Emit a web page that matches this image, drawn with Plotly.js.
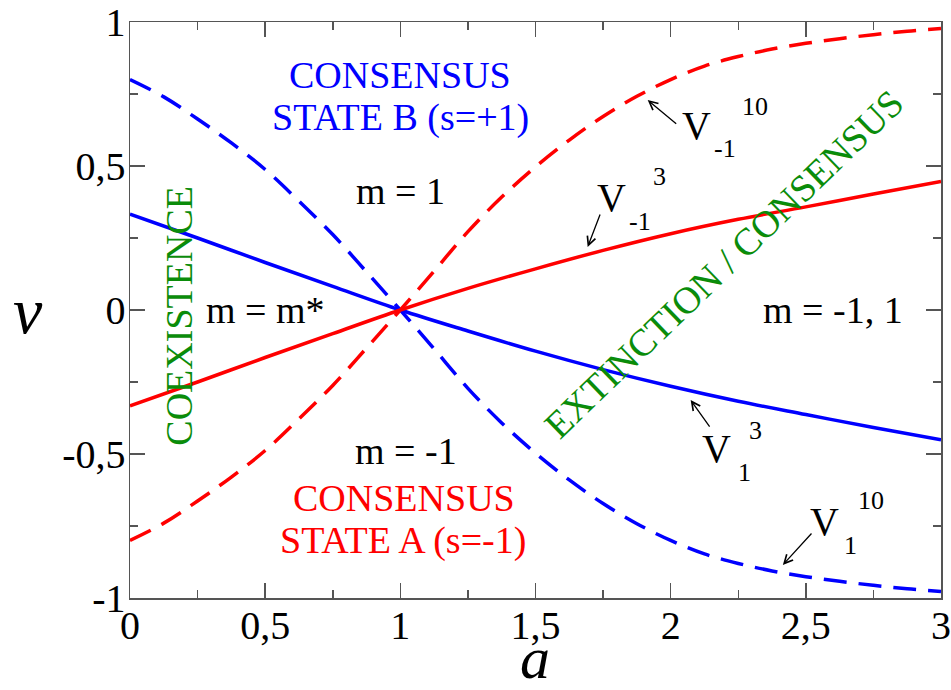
<!DOCTYPE html>
<html><head><meta charset="utf-8">
<script src="https://cdn.plot.ly/plotly-3.0.1.min.js"></script>
<style>html,body{margin:0;padding:0;background:#fff}</style>
</head><body><div id="chart" style="width:951px;height:690px"></div>
<script>
// ---- data ----
const aDense = [0,0.125,0.25,0.375,0.5,0.625,0.75,0.875,1,1.125,1.25,1.375,1.5,1.625,1.75,1.875,2,2.125,2.25,2.375,2.5,2.625,2.75,2.875,3];
const vPlus10 = [0.800,0.740,0.663,0.580,0.488,0.378,0.262,0.132,0,-0.135,-0.272,-0.392,-0.497,-0.590,-0.672,-0.742,-0.800,-0.847,-0.880,-0.906,-0.926,-0.942,-0.956,-0.968,-0.977];
const vMinus10 = [-0.800,-0.740,-0.663,-0.580,-0.488,-0.378,-0.262,-0.132,0,0.135,0.272,0.392,0.497,0.590,0.672,0.742,0.800,0.847,0.880,0.906,0.926,0.942,0.956,0.968,0.977];
const aCoarse = [0,0.25,0.5,0.75,1,1.25,1.5,1.75,2,2.25,2.5,2.75,3];
const vPlus3 = [0.333,0.250,0.165,0.082,0,-0.073,-0.143,-0.207,-0.265,-0.317,-0.363,-0.408,-0.451];
const vMinus3 = [-0.333,-0.250,-0.165,-0.082,0,0.075,0.143,0.207,0.265,0.315,0.358,0.403,0.446];
const xTickVals = [0,0.5,1,1.5,2,2.5,3];
const xTickText = ["0","0,5","1","1,5","2","2,5","3"];
const yTickVals = [-1,-0.5,0,0.5,1];
const yTickText = ["-1","-0,5","0","0,5","1"];

// ---- styles ----
const FONT = '"Liberation Serif", "DejaVu Serif", "Times New Roman", serif';
const BLUE = '#0000ff', RED = '#ff0000', GREEN = '#0a8c0a', AX = '#555555';
const LW = 3.5, DASH = '23px,12px';

const traces = [
  {x: aDense, y: vPlus10, mode: 'lines', line: {color: BLUE, width: LW, dash: DASH, shape: 'spline'}, name: 'V1^10'},
  {x: aDense, y: vMinus10, mode: 'lines', line: {color: RED, width: LW, dash: DASH, shape: 'spline'}, name: 'V-1^10'},
  {x: aCoarse, y: vPlus3, mode: 'lines', line: {color: BLUE, width: LW, shape: 'spline'}, name: 'V1^3'},
  {x: aCoarse, y: vMinus3, mode: 'lines', line: {color: RED, width: LW, shape: 'spline'}, name: 'V-1^3'}
];

function txt(text, x, y, color, size, extra) {
  return Object.assign({text: text, x: x, y: y, xref: 'x', yref: 'y', showarrow: false,
    font: {family: FONT, size: size, color: color}, xanchor: 'center', yanchor: 'middle', borderpad: 0}, extra || {});
}
function arrow(x, y, ax, ay) {
  return {text: '', x: x, y: y, ax: ax, ay: ay, xref: 'x', yref: 'y', axref: 'x', ayref: 'y',
    showarrow: true, arrowhead: 5, arrowsize: 1.3, arrowwidth: 1.3, arrowcolor: '#000', standoff: 0, startstandoff: 0};
}
const L = {xanchor: 'left'};
const TS = 38, VS = 40, SS = 26;

const annotations = [
  txt('CONSENSUS', 1.0, 0.816, BLUE, TS),
  txt('STATE B (s=+1)', 1.0, 0.670, BLUE, TS),
  txt('m = 1', 1.0, 0.413, '#000', TS),
  txt('m = m*', 0.5, 0.0, '#000', TS),
  txt('COEXISTENCE', 0.181, -0.02, GREEN, TS, {textangle: -90}),
  txt('m = -1', 1.02, -0.49, '#000', TS),
  txt('CONSENSUS', 1.013, -0.653, RED, TS),
  txt('STATE A (s=-1)', 1.01, -0.802, RED, TS),
  txt('m = -1, 1', 2.6, 0.0, '#000', TS),
  txt('EXTINCTION / CONSENSUS', 2.196, 0.16, GREEN, TS, {textangle: -44}),
  // V labels
  txt('V', 2.040, 0.641, '#000', VS, L), txt('-1', 2.155, 0.561, '#000', SS, L), txt('10', 2.262, 0.708, '#000', SS, L),
  txt('V', 1.722, 0.391, '#000', VS, L), txt('-1', 1.841, 0.309, '#000', SS, L), txt('3', 1.93, 0.462, '#000', SS, L),
  txt('V', 2.114, -0.481, '#000', VS, L), txt('1', 2.244, -0.564, '#000', SS, L), txt('3', 2.285, -0.417, '#000', SS, L),
  txt('V', 2.510, -0.734, '#000', VS, L), txt('1', 2.636, -0.816, '#000', SS, L), txt('10', 2.691, -0.663, '#000', SS, L),
  // arrows
  arrow(1.915, 0.729, 2.026, 0.642),
  arrow(1.693, 0.219, 1.741, 0.337),
  arrow(2.074, -0.3125, 2.148, -0.41),
  arrow(2.415, -0.885, 2.526, -0.771),
  // axis labels
  {text: '<i>v</i>', xref: 'paper', yref: 'y', x: -0.126, y: 0.0, showarrow: false,
   font: {family: FONT, size: 66, color: '#000'}, xanchor: 'center', yanchor: 'middle'},
  {text: '<i>a</i>', xref: 'paper', yref: 'paper', x: 0.4994, y: -0.105, showarrow: false,
   font: {family: FONT, size: 60, color: '#000'}, xanchor: 'center', yanchor: 'middle'}
];

const axisCommon = {
  showgrid: false, zeroline: false, showline: true, linecolor: AX, linewidth: 1.5,
  mirror: 'ticks', ticks: 'inside', ticklen: 15, tickwidth: 1.5, tickcolor: AX,
  tickfont: {family: FONT, size: 40, color: '#000'}, tickmode: 'array'
};

const layout = {
  width: 951, height: 690,
  margin: {l: 130, r: 10, t: 22, b: 92},
  paper_bgcolor: '#fff', plot_bgcolor: '#fff',
  showlegend: false,
  xaxis: Object.assign({}, axisCommon, {
    range: [0, 3], tickvals: xTickVals, ticktext: xTickText, ticklabelstandoff: -9,
    minor: {tickmode: 'linear', tick0: 0, dtick: 0.25, ticks: 'inside', ticklen: 8, tickwidth: 1.5, tickcolor: AX}
  }),
  yaxis: Object.assign({}, axisCommon, {
    range: [-1, 1], tickvals: yTickVals, ticktext: yTickText, ticklabelstandoff: -5,
    minor: {tickmode: 'linear', tick0: 0, dtick: 0.25, ticks: 'inside', ticklen: 8, tickwidth: 1.5, tickcolor: AX}
  }),
  annotations: annotations
};

Plotly.newPlot('chart', traces, layout, {staticPlot: true, displayModeBar: false});
</script>
</body></html>
